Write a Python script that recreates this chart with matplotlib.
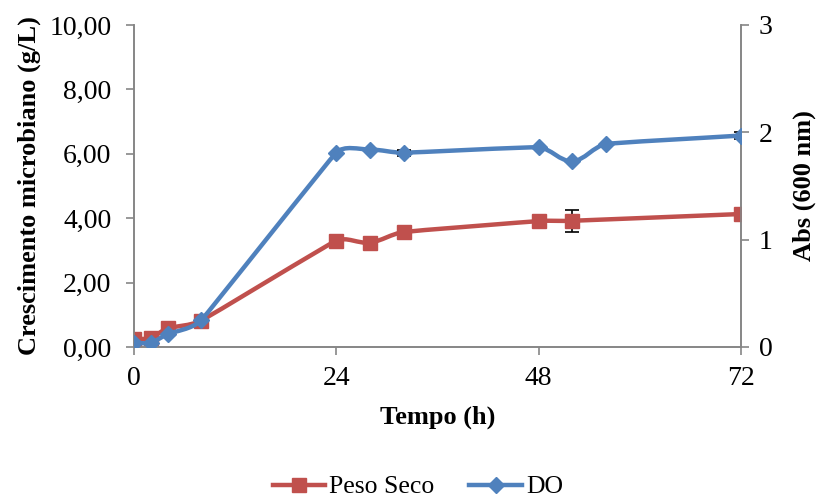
import numpy as np
import matplotlib.pyplot as plt
from matplotlib.path import Path
from matplotlib.patches import PathPatch
from matplotlib.lines import Line2D

plt.rcParams['font.family'] = ['Liberation Serif', 'DejaVu Serif']

# dados
tempo_ps = [0, 2, 4, 8, 24, 28, 32, 48, 52, 72]
peso_seco = [0.25, 0.28, 0.58, 0.82, 3.30, 3.24, 3.57, 3.91, 3.92, 4.13]
erro_ps = [0, 0, 0, 0, 0, 0, 0, 0, 0.35, 0]

tempo_do = [0, 2, 4, 8, 24, 28, 32, 48, 52, 56, 72]
do = [0.04, 0.04, 0.12, 0.25, 1.81, 1.84, 1.81, 1.86, 1.73, 1.89, 1.97]
erro_do = [0, 0, 0, 0, 0, 0, 0.03, 0, 0, 0, 0.03]

xticks = [0, 24, 48, 72]
red = '#C0504D'
blue = '#4F81BD'
gray = '#868686'
fs = 19


def tangent(pts, i):
    n = len(pts)
    p0 = pts[max(i - 1, 0)]
    p2 = pts[min(i + 1, n - 1)]
    v = p2 - p0
    u = v / max(np.hypot(*v), 1e-9)
    ds = []
    if i > 0:
        ds.append(np.hypot(*(pts[i] - pts[i - 1])))
    if i < n - 1:
        ds.append(np.hypot(*(pts[i + 1] - pts[i])))
    return u * min(ds) / 3


def smooth(ax, xs, ys, color):
    # curva suavizada (bezier em coordenadas de tela)
    pts = ax.transData.transform(np.column_stack([xs, ys]).astype(float))
    verts = [pts[0]]
    codes = [Path.MOVETO]
    for i in range(len(pts) - 1):
        verts += [pts[i] + tangent(pts, i), pts[i + 1] - tangent(pts, i + 1), pts[i + 1]]
        codes += [Path.CURVE4] * 3
    verts = ax.transData.inverted().transform(np.array(verts))
    ax.add_patch(PathPatch(Path(verts, codes), fill=False, edgecolor=color,
                           lw=3.2, capstyle='round', joinstyle='round', zorder=2))


fig = plt.figure(figsize=(8.16, 5.0), dpi=100)
ax = fig.add_axes([0.164, 0.306, 0.744, 0.644])
ax2 = ax.twinx()

ax.set_xlim(0, 72)
ax.set_ylim(0, 10)
ax2.set_ylim(0, 3)

smooth(ax, tempo_ps, peso_seco, red)
ax.errorbar(tempo_ps, peso_seco, yerr=erro_ps, fmt='none', ecolor='black',
            elinewidth=1.2, capsize=5, capthick=1.2, zorder=3)
ax.plot(tempo_ps, peso_seco, ls='none', marker='s', ms=10, color=red, zorder=4)

smooth(ax2, tempo_do, do, blue)
ax2.errorbar(tempo_do, do, yerr=erro_do, fmt='none', ecolor='black',
             elinewidth=1.2, capsize=5, capthick=1.2, zorder=3)
ax2.plot(tempo_do, do, ls='none', marker='D', ms=8.5, color=blue, zorder=4)

ax.set_xticks(xticks)
ax.set_yticks(np.arange(0, 10.1, 2))
ax.set_yticklabels([f'{v:.2f}'.replace('.', ',') for v in np.arange(0, 10.1, 2)])
ax2.set_yticks([0, 1, 2, 3])

for a in (ax, ax2):
    a.spines['top'].set_visible(False)
    for s in ('left', 'right', 'bottom'):
        a.spines[s].set_color(gray)
        a.spines[s].set_linewidth(1.2)
    a.tick_params(colors=gray, labelcolor='black', labelsize=20, length=6, width=1.2)
ax.tick_params(axis='x', pad=8)
ax.tick_params(axis='y', pad=10)
ax2.tick_params(axis='y', pad=7)

ax.set_xlabel('Tempo (h)', fontsize=fs, fontweight='bold', labelpad=10)
ax.set_ylabel('Crescimento microbiano (g/L)', fontsize=fs, fontweight='bold', labelpad=6)
ax2.set_ylabel('Abs (600 nm)', fontsize=fs, fontweight='bold', labelpad=14)

handles = [Line2D([], [], color=red, lw=3.2, marker='s', ms=10),
           Line2D([], [], color=blue, lw=3.2, marker='D', ms=8.5)]
fig.legend(handles, ['Peso Seco', 'DO'], loc='center', bbox_to_anchor=(0.512, 0.026),
           ncol=2, frameon=False, fontsize=18.5, handlelength=2.05, handletextpad=0.15,
           columnspacing=1.35)

fig.savefig('out.png', dpi=100)
